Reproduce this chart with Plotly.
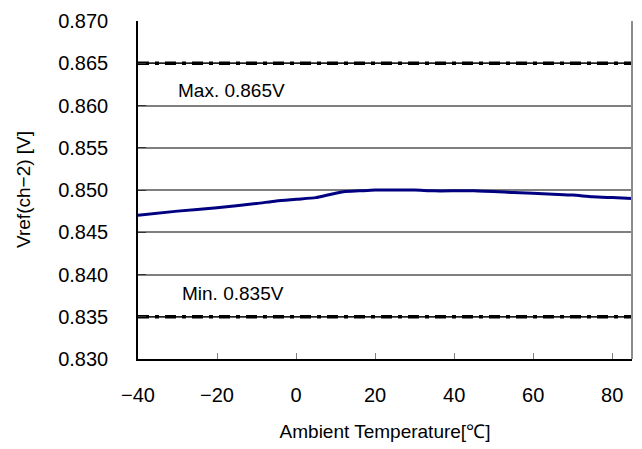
import plotly.graph_objects as go

# Data
temp = [-40, -30, -20, -10, -5, 0, 5, 8, 12, 16, 20, 25, 30, 35, 45, 55, 65, 70, 75, 80, 85]
vref = [0.8470, 0.8475, 0.8479, 0.8484, 0.8487, 0.8489, 0.8491, 0.8494, 0.8498, 0.8499, 0.8500,
        0.8500, 0.8500, 0.8499, 0.8499, 0.8497, 0.8495, 0.8494, 0.8492, 0.8491, 0.8490]
limit_x = [-40, 85]
vmax = 0.865
vmin = 0.835
x_ticks = [-40, -20, 0, 20, 40, 60, 80]
y_ticks = [0.830, 0.835, 0.840, 0.845, 0.850, 0.855, 0.860, 0.865, 0.870]

FONT = "Liberation Sans, Arial, sans-serif"
FS = 20

fig = go.Figure()
for v in (vmax, vmin):
    fig.add_trace(go.Scatter(x=limit_x, y=[v, v], mode="lines",
                             line=dict(color="black", width=1), showlegend=False, hoverinfo="skip"))
    fig.add_trace(go.Scatter(x=limit_x, y=[v, v], mode="lines",
                             line=dict(color="black", width=3.5, dash="11px,6px,4px,6px"),
                             showlegend=False, hoverinfo="skip"))
fig.add_trace(go.Scatter(x=temp, y=vref, mode="lines",
                         line=dict(color="#000080", width=3, shape="spline", smoothing=0.6),
                         showlegend=False))

fig.add_annotation(x=-30.5, y=0.8618, text="Max. 0.865V", showarrow=False, xanchor="left", yanchor="middle",
                   font=dict(size=FS - 1, color="black", family=FONT))
fig.add_annotation(x=-29.3, y=0.8377, text="Min. 0.835V", showarrow=False, xanchor="left", yanchor="middle",
                   font=dict(size=FS - 1, color="black", family=FONT))
fig.add_annotation(xref="paper", yref="paper", x=0, y=0.5, xshift=-115, text="Vref(ch\u22122) [V]",
                   textangle=-90, showarrow=False, xanchor="center", yanchor="middle",
                   font=dict(size=FS - 1, color="black", family=FONT))
# right border
fig.add_shape(type="line", xref="paper", yref="paper", x0=1, x1=1, y0=0, y1=1,
              line=dict(color="#8c8c8c", width=2))

fig.update_layout(
    width=642, height=449,
    margin=dict(l=138, r=10, t=17, b=90),
    paper_bgcolor="white", plot_bgcolor="white",
    font=dict(family=FONT, size=FS, color="black"),
    xaxis=dict(range=[-40, 85], tickvals=x_ticks, ticks="inside", ticklen=6, tickcolor="#7f7f7f", tickwidth=1,
               showgrid=False, zeroline=False, showline=True, linecolor="black", linewidth=1.5,
               ticklabelstandoff=17,
               title=dict(text="Ambient Temperature[\u2103]", standoff=20, font=dict(size=FS - 1))),
    yaxis=dict(range=[0.830, 0.870], tickvals=y_ticks, tickformat=".3f", ticks="inside", ticklen=8,
               tickcolor="#333333", tickwidth=1,
               showgrid=True, gridcolor="#7f7f7f", gridwidth=1.5, zeroline=False,
               showline=True, linecolor="black", linewidth=1.5, ticklabelstandoff=24),
)
fig.write_html("out.html", config={"displayModeBar": False},
               post_script="document.body.style.margin='0';document.body.style.overflow='hidden';")
